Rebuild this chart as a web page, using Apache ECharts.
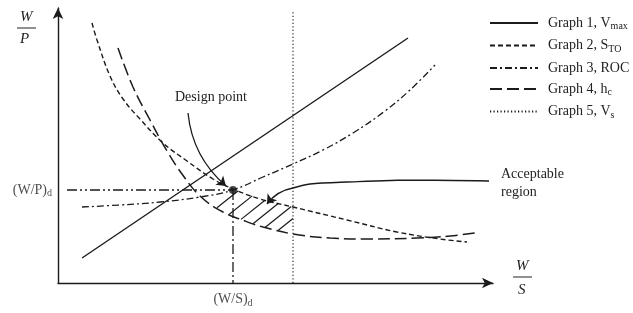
<!DOCTYPE html>
<html>
<head>
<meta charset="utf-8">
<script src="https://cdn.jsdelivr.net/npm/echarts@6/dist/echarts.min.js"></script>
<style>
  html, body { margin: 0; padding: 0; background: #fff; }
  #chart { width: 633px; height: 313px; }
</style>
</head>
<body>
<div id="chart"></div>
<script>
// matching chart: W/S on x, W/P on y (arbitrary units)
const vmaxWS = [24, 350];
const vmaxWP = [25, 245];

const stoWS = [34, 39, 52, 65, 82, 105, 129, 155, 175, 202, 235, 289, 339, 382, 409];
const stoWP = [260, 243, 207, 184, 164, 140, 122, 104, 94, 84, 76, 63, 51, 44, 41];

const rocWS = [24, 62, 102, 142, 175, 205, 235, 265, 295, 327, 352, 377];
const rocWP = [76, 78, 81, 86, 93, 106, 119, 133, 150, 172, 193, 218];

const hcWS = [60, 75, 92, 109, 124, 142, 165, 187, 205, 235, 272, 312, 359, 392, 417];
const hcWP = [235, 196, 163, 132, 109, 87, 71, 62, 56, 49, 45, 44, 45, 47, 50];

const vsWS = 235;
const axisMaxWS = 435;
const axisMaxWP = 275;

const designWS = 175;
const designWP = 93;

// acceptable region callout line and arrow
const accWS = [431, 355, 289, 252, 235];
const accWP = [102, 103, 101, 99, 95];
const accArrowEnd = [209, 79];
const designArrowStart = [130, 170];
const designArrowEnd = [168, 97];

// hatch lines start on the h_c curve at these W/S values
const hatchStarts = [159, 171, 183, 195, 207, 220];
const hatchSlope = 0.8;

const legendNames = ['Graph 1, Vmax', 'Graph 2, STO', 'Graph 3, ROC', 'Graph 4, hc', 'Graph 5, Vs'];
const legendRich = {
  'Graph 1, Vmax': 'Graph 1, V{sub|max}',
  'Graph 2, STO': 'Graph 2, S{sub|TO}',
  'Graph 3, ROC': 'Graph 3, ROC',
  'Graph 4, hc': 'Graph 4, h{sub|c}',
  'Graph 5, Vs': 'Graph 5, V{sub|s}'
};

const ink = '#1b1b1b';
const serif = 'Liberation Serif';

function zip(xs, ys) {
  return xs.map((x, i) => [x, ys[i]]);
}

function interp(xs, ys, x) {
  for (let i = 0; i < xs.length - 1; i++) {
    if (x >= xs[i] && x <= xs[i + 1]) {
      const t = (x - xs[i]) / (xs[i + 1] - xs[i]);
      return ys[i] + t * (ys[i + 1] - ys[i]);
    }
  }
  return ys[ys.length - 1];
}

// walk up from h_c until we hit S_TO or the stall line
const hatchData = hatchStarts.map(x0 => {
  const y0 = interp(hcWS, hcWP, x0);
  let t = 0;
  while (t < 80) {
    const x = x0 + t;
    if (x >= vsWS) break;
    if (y0 + hatchSlope * t >= interp(stoWS, stoWP, x)) break;
    t += 0.25;
  }
  return { coords: [[x0, y0], [x0 + t, y0 + hatchSlope * t]] };
});

const chart = echarts.init(document.getElementById('chart'));

const option = {
  animation: false,
  grid: { left: 58, right: 140, top: 8, bottom: 30 },
  legend: {
    orient: 'vertical',
    left: 484,
    top: 11,
    itemWidth: 48,
    itemHeight: 14,
    itemGap: 7,
    data: legendNames,
    formatter: name => legendRich[name],
    itemStyle: { opacity: 0 },
    textStyle: {
      fontFamily: serif,
      fontSize: 14,
      color: '#222',
      padding: [0, 0, 0, 5],
      rich: {
        sub: { fontFamily: serif, fontSize: 10, padding: [7, 0, 0, 0] }
      }
    }
  },
  xAxis: {
    type: 'value',
    min: 0,
    max: axisMaxWS,
    axisLine: { lineStyle: { color: ink, width: 1.4 }, symbol: ['none', 'arrow'], symbolSize: [8, 11] },
    axisTick: { show: false },
    axisLabel: { show: false },
    splitLine: { show: false }
  },
  yAxis: {
    type: 'value',
    min: 0,
    max: axisMaxWP,
    axisLine: { show: true, lineStyle: { color: ink, width: 1.4 }, symbol: ['none', 'arrow'], symbolSize: [8, 11] },
    axisTick: { show: false },
    axisLabel: { show: false },
    splitLine: { show: false }
  },
  series: [
    {
      name: 'Graph 1, Vmax',
      type: 'line',
      symbol: 'none',
      data: zip(vmaxWS, vmaxWP),
      lineStyle: { color: ink, width: 1.4 },
      itemStyle: { color: ink }
    },
    {
      name: 'Graph 2, STO',
      type: 'line',
      symbol: 'none',
      smooth: 0.4,
      data: zip(stoWS, stoWP),
      lineStyle: { color: ink, width: 1.4, type: [5, 3] },
      itemStyle: { color: ink }
    },
    {
      name: 'Graph 3, ROC',
      type: 'line',
      symbol: 'none',
      smooth: 0.4,
      data: zip(rocWS, rocWP),
      lineStyle: { color: ink, width: 1.3, type: [7, 3, 2, 3] },
      itemStyle: { color: ink }
    },
    {
      name: 'Graph 4, hc',
      type: 'line',
      symbol: 'none',
      smooth: 0.4,
      data: zip(hcWS, hcWP),
      lineStyle: { color: ink, width: 1.5, type: [12, 5] },
      itemStyle: { color: ink }
    },
    {
      name: 'Graph 5, Vs',
      type: 'line',
      symbol: 'none',
      data: [[vsWS, 0], [vsWS, 273]],
      lineStyle: { color: ink, width: 1.1, type: [1.2, 2.3] },
      itemStyle: { color: ink }
    },
    {
      // design guide lines
      type: 'line',
      symbol: 'none',
      data: [[9, designWP], [designWS, designWP]],
      lineStyle: { color: ink, width: 1.3, type: [10, 3, 2, 3, 2, 3] }
    },
    {
      type: 'line',
      symbol: 'none',
      data: [[designWS, designWP], [designWS, 0]],
      lineStyle: { color: ink, width: 1.3, type: [10, 3, 2, 3] }
    },
    {
      // hatching of the acceptable region
      type: 'lines',
      coordinateSystem: 'cartesian2d',
      data: hatchData,
      lineStyle: { color: ink, width: 1.2, opacity: 1 }
    },
    {
      // callout to the acceptable region
      type: 'line',
      symbol: 'none',
      smooth: 0.3,
      clip: false,
      data: zip(accWS, accWP),
      lineStyle: { color: ink, width: 1.4 }
    },
    {
      type: 'lines',
      coordinateSystem: 'cartesian2d',
      symbol: ['none', 'arrow'],
      symbolSize: 9,
      data: [
        { coords: [[accWS[accWS.length - 1], accWP[accWP.length - 1]], accArrowEnd] },
        { coords: [designArrowStart, designArrowEnd] }
      ],
      lineStyle: { color: ink, width: 1.3, curveness: -0.2, opacity: 1 }
    },
    {
      // design point and its axis values
      type: 'scatter',
      symbol: 'circle',
      symbolSize: 8,
      itemStyle: { color: ink },
      data: [[designWS, designWP]]
    },
    {
      type: 'scatter',
      symbolSize: 0,
      silent: true,
      label: {
        show: true,
        fontFamily: serif,
        fontSize: 14,
        color: '#222',
        rich: { sub: { fontFamily: serif, fontSize: 10, padding: [7, 0, 0, 0] } }
      },
      data: [
        { value: [0, designWP], label: { position: 'left', distance: 6, formatter: '(W/P){sub|d}' } },
        { value: [designWS, 0], label: { position: 'bottom', distance: 8, formatter: '(W/S){sub|d}' } }
      ]
    }
  ],
  graphic: [
    { type: 'text', left: 175, top: 90, style: { text: 'Design point', font: '14px "Liberation Serif"', fill: '#222' } },
    { type: 'text', left: 501, top: 165, style: { text: 'Acceptable\nregion', font: '14px "Liberation Serif"', lineHeight: 18, fill: '#222' } },
    { type: 'text', left: 20, top: 10, style: { text: 'W', font: 'italic 15px "Liberation Serif"', fill: '#222' } },
    { type: 'line', shape: { x1: 17, y1: 28, x2: 36, y2: 28 }, style: { stroke: '#222', lineWidth: 1 } },
    { type: 'text', left: 20, top: 32, style: { text: 'P', font: 'italic 15px "Liberation Serif"', fill: '#222' } },
    { type: 'text', left: 516, top: 259, style: { text: 'W', font: 'italic 15px "Liberation Serif"', fill: '#222' } },
    { type: 'line', shape: { x1: 513, y1: 277, x2: 532, y2: 277 }, style: { stroke: '#222', lineWidth: 1 } },
    { type: 'text', left: 518, top: 283, style: { text: 'S', font: 'italic 15px "Liberation Serif"', fill: '#222' } }
  ]
};

chart.setOption(option);
</script>
</body>
</html>
